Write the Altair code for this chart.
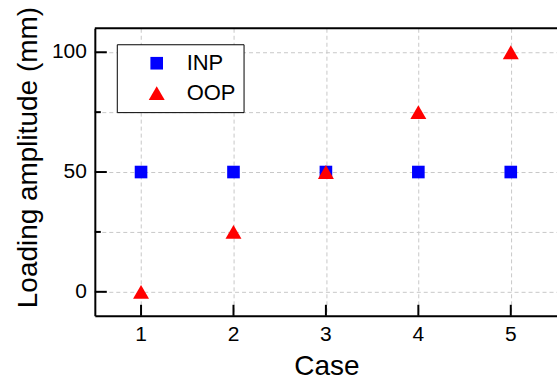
import altair as alt
import pandas as pd

cases = [1, 2, 3, 4, 5]
inp = [50, 50, 50, 50, 50]
oop = [0, 25, 50, 75, 100]
series_names = ["INP", "OOP"]
y_grid_values = [0, 25, 50, 75, 100]
y_major = [0, 50, 100]
y_minor = [25, 75]
x_tick_labels = ["1", "2", "3", "4", "5"]
y_tick_labels = ["0", "50", "100"]

df = pd.DataFrame({
    "Case": cases + cases,
    "Amp": inp + oop,
    "Series": ["INP"] * len(cases) + ["OOP"] * len(cases),
})

FONT = "Liberation Sans"
W, H = 463, 288

xscale = alt.Scale(domain=[0.5, 5.5], nice=False, zero=False)
yscale = alt.Scale(domain=[-10, 110], nice=False, zero=False)

xaxis = alt.Axis(values=cases, title="Case", grid=True, ticks=False, labels=False,
                 titleFontSize=28, titleFontWeight="normal", titleBaseline="alphabetic",
                 titleAlign="center", titleX=232, titleY=59,
                 domainColor="black", domainWidth=2,
                 gridColor="#c8c8c8", gridDash=[4, 3], gridWidth=1,
                 titleColor="black", titleFont=FONT)
yaxis = alt.Axis(values=y_grid_values, title="Loading amplitude (mm)", grid=True, ticks=False,
                 labels=False, titleFontSize=28,
                 titleFontWeight="normal", titleAngle=270, titleAlign="center",
                 titleBaseline="alphabetic", titleX=-58, titleY=129,
                 domainColor="black", domainWidth=2,
                 gridColor="#c8c8c8", gridDash=[4, 3], gridWidth=1,
                 titleColor="black", titleFont=FONT)

points = alt.Chart(df).mark_point(filled=True, opacity=1).encode(
    x=alt.X("Case:Q", scale=xscale, axis=xaxis),
    y=alt.Y("Amp:Q", scale=yscale, axis=yaxis),
    color=alt.Color("Series:N", scale=alt.Scale(domain=series_names, range=["#0000ff", "#ff0000"]),
                    legend=alt.Legend(title=None, orient="none", legendX=22, legendY=16,
                                      padding=8, strokeColor="black", fillColor="white",
                                      labelFontSize=22, labelFont=FONT, labelColor="black",
                                      symbolOffset=21, labelOffset=19, rowPadding=8,
                                      symbolSize=190, symbolStrokeWidth=0, cornerRadius=0)),
    shape=alt.Shape("Series:N", scale=alt.Scale(domain=series_names, range=["square", "triangle-up"])),
    size=alt.Size("Series:N", scale=alt.Scale(domain=series_names, range=[160, 256]), legend=None),
    order=alt.Order("Series:N"),
)

top_border = alt.Chart(pd.DataFrame({"v": [110]})).mark_rule(color="black", strokeWidth=2).encode(
    y=alt.Y("v:Q", scale=yscale, axis=yaxis))
ymaj = alt.Chart(pd.DataFrame({"v": y_major})).mark_rule(color="black", strokeWidth=2).encode(
    y=alt.Y("v:Q", scale=yscale, axis=yaxis), x=alt.value(0), x2=alt.value(12))
ymin = alt.Chart(pd.DataFrame({"v": y_minor})).mark_rule(color="black", strokeWidth=2).encode(
    y=alt.Y("v:Q", scale=yscale, axis=yaxis), x=alt.value(0), x2=alt.value(6))
xt = alt.Chart(pd.DataFrame({"c": cases})).mark_rule(color="black", strokeWidth=2).encode(
    x=alt.X("c:Q", scale=xscale, axis=xaxis), y=alt.value(H), y2=alt.value(H - 11))

xlab = alt.Chart(pd.DataFrame({"c": cases, "t": x_tick_labels})).mark_text(
    fontSize=21, font=FONT, color="black", align="center", baseline="top").encode(
    x=alt.X("c:Q", scale=xscale, axis=xaxis), y=alt.value(H + 8), text="t:N")
ylab = alt.Chart(pd.DataFrame({"v": y_major, "t": y_tick_labels})).mark_text(
    fontSize=21, font=FONT, color="black", align="right", baseline="middle").encode(
    y=alt.Y("v:Q", scale=yscale, axis=yaxis), x=alt.value(-8), text="t:N")

chart = alt.layer(points, top_border, ymaj, ymin, xt, xlab, ylab).properties(
    width=W, height=H,
    autosize=alt.AutoSizeParams(type="none"),
    padding={"left": 95, "top": 28, "right": 0, "bottom": 62},
).configure(font=FONT).configure_view(strokeWidth=0, stroke="transparent")

chart.save("out.html", embed_options={"renderer": "svg", "actions": False})
